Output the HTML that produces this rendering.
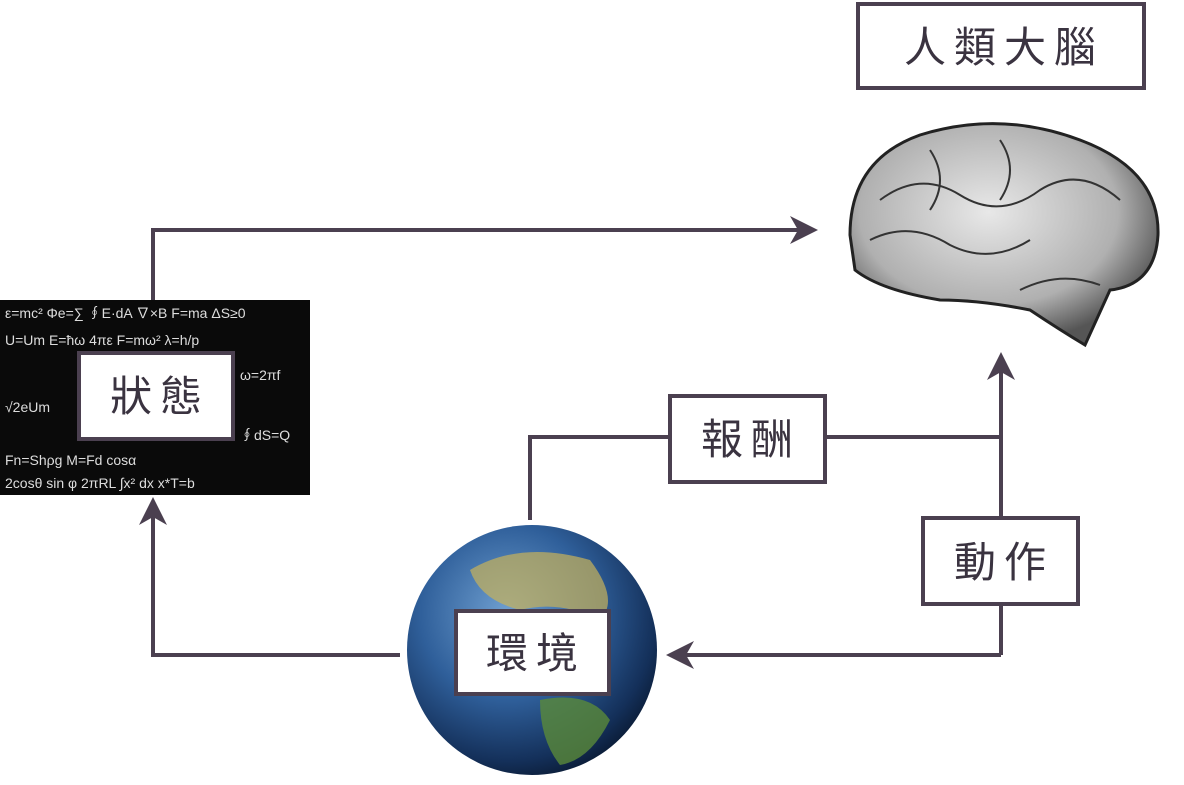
<!DOCTYPE html>
<html><head><meta charset="utf-8"><style>
html,body{margin:0;padding:0;background:#fff;width:1184px;height:785px;overflow:hidden}
svg{display:block}
text{font-family:"Liberation Sans","Noto Sans CJK TC",sans-serif;fill:#3a3340}
</style></head><body>
<svg width="1184" height="785" viewBox="0 0 1184 785">
<defs>
<radialGradient id="earth" cx="40%" cy="35%" r="70%">
<stop offset="0" stop-color="#6f9fd0"/><stop offset="0.5" stop-color="#2f5f9a"/><stop offset="0.85" stop-color="#14305a"/><stop offset="1" stop-color="#0a1a33"/>
</radialGradient>
<radialGradient id="brain" cx="45%" cy="40%" r="60%">
<stop offset="0" stop-color="#e8e8e8"/><stop offset="0.7" stop-color="#b0b0b0"/><stop offset="1" stop-color="#555"/>
</radialGradient>
</defs>
<g stroke="#4b4050" stroke-width="4" fill="none">
<polyline points="153,300 153,230 805,230"/>
<polyline points="400,655 153,655 153,510"/>
<polyline points="530,520 530,437 1001,437"/>
<polyline points="1001,655 1001,365"/>
<polyline points="1001,655 678,655"/>
</g>
<g fill="#4b4050">
<path d="M818,230 L790,216 L798,230 L790,244Z"/>
<path d="M153,497 L139,525 L153,517 L167,525Z"/>
<path d="M1001,352 L987,380 L1001,372 L1015,380Z"/>
<path d="M666,655 L694,641 L686,655 L694,669Z"/>
</g>
<!-- blackboard -->
<rect x="0" y="300" width="310" height="195" fill="#0a0a0a"/>
<g fill="#ddd" font-size="14" font-family="Liberation Serif,serif">
<text x="5" y="318" style="fill:#ddd">ε=mc² Φe=∑ ∮E·dA ∇×B F=ma ΔS≥0</text>
<text x="5" y="345" style="fill:#ddd">U=Um E=ħω 4πε F=mω² λ=h/p</text>
<text x="240" y="380" style="fill:#ddd">ω=2πf</text>
<text x="240" y="440" style="fill:#ddd">∮dS=Q</text>
<text x="5" y="465" style="fill:#ddd">Fn=Shρg M=Fd cosα</text>
<text x="5" y="488" style="fill:#ddd">2cosθ sin φ  2πRL  ∫x² dx  x*T=b</text>
<text x="5" y="412" style="fill:#ddd">√2eUm</text>
</g>
<!-- earth -->
<circle cx="532" cy="650" r="125" fill="url(#earth)"/>
<path d="M470,570 Q520,540 590,560 Q620,600 600,620 Q560,600 520,610 Q480,600 470,570Z" fill="#c8b25a" opacity="0.7"/>
<path d="M540,700 Q590,690 610,720 Q590,760 560,765 Q540,740 540,700Z" fill="#5a8a3a" opacity="0.8"/>
<!-- brain -->
<path d="M850,235 Q850,160 920,135 Q1000,110 1080,140 Q1160,170 1158,235 Q1155,285 1110,290 L1085,345 Q1060,330 1030,310 Q980,300 940,300 Q880,290 855,270Z" fill="url(#brain)" stroke="#222" stroke-width="3"/>
<g stroke="#333" stroke-width="2" fill="none">
<path d="M880,200 Q920,170 960,195 Q1000,220 1040,190 Q1080,165 1120,200"/>
<path d="M870,240 Q910,220 950,245 Q990,265 1030,240"/>
<path d="M1020,290 Q1060,270 1100,285"/>
<path d="M930,150 Q950,180 930,210"/>
<path d="M1000,140 Q1020,170 1000,200"/>
</g>
<!-- boxes -->
<g fill="#fff" stroke="#4b4050" stroke-width="4">
<rect x="858" y="4" width="286" height="84"/>
<rect x="79" y="353" width="154" height="86"/>
<rect x="456" y="611" width="153" height="83"/>
<rect x="670" y="396" width="155" height="86"/>
<rect x="923" y="518" width="155" height="86"/>
</g>
<g font-size="42" text-anchor="middle" letter-spacing="8">
<text x="1004" y="62">人類大腦</text>
<text x="160" y="411">狀態</text>
<text x="536" y="668">環境</text>
<text x="751" y="454">報酬</text>
<text x="1004" y="577">動作</text>
</g>
</svg>
</body></html>
